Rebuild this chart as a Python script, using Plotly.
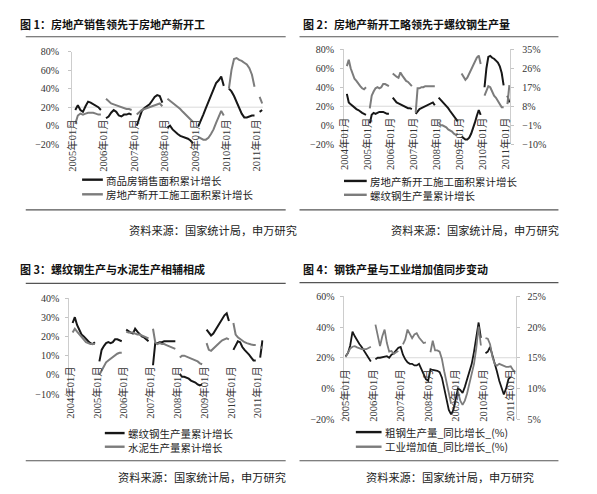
import plotly.graph_objects as go

W, H = 597, 494


def fx(px):
    return px / W


def fy(py):
    return 1 - py / H


# ---------------- categories ----------------
months_04 = [f"{y}年{m:02d}月" for y in range(2004, 2012) for m in range(1, 13)][:87]  # 2004-01 .. 2011-03
months_05 = months_04[12:]                                                           # 2005-01 .. 2011-03
year_ticks_04 = [c for c in months_04 if c.endswith("01月")]
year_ticks_05 = year_ticks_04[1:]

# ---------------- data (%), None = no data ----------------
# 房地产新开工施工面积累计增长, 2004-01 .. 2011-03
new_start = [
    None, 33, 24, 22, 20, 19, 17, 16, 14, 13, 12, 11,
    None, 2, 11, 13, 12, 13, 14, 14, 14, 13, 12, 12,
    None, 29, 26, 24, 23, 22, 21, 20, 19, 18, 18, 17,
    None, 12, 15, 17, 18, 19, 20, 21, 22, 23, 24, 21,
    None, 29, 27, 24, 22, 20, 18, 15, 12, 9, 6, 4,
    None, -12, -14, -15, -15, -13, -9, -4, 3, 10, 16, 11,
    None, 40, 60, 72, 73, 71, 70, 68, 66, 62, 55, 42,
    None, 31, 24,
]
# 商品房销售面积累计增长, 2005-01 .. 2011-03
sales = [
    None, 17, 22, 17, 15, 21, 26, 25, 23, 22, 20, 17,
    None, 8, 10, 14, 17, 15, 11, 10, 12, 12, 13, 12,
    None, 0, 9, 16, 19, 21, 23, 27, 31, 33, 32, 25,
    None, -2, 0, -4, -7, -9, -11, -12, -13, -14, -16, -19,
    None, -1, 5, 12, 19, 26, 32, 41, 46, 49, 53, 43,
    None, 40, 37, 32, 26, 19, 13, 9, 9, 10, 11, 11,
    None, 15, 17,
]
# 螺纹钢生产量累计增长, 2004-01 .. 2011-03
rebar = [
    None, 27, 30, 26, 23, 21, 20, 18.5, 17.5, 16.5, 16, 17,
    None, 7, 13, 15, 16.5, 17, 16.5, 17, 18.5, 18.5, 18, 17.5,
    None, 23.5, 22.5, 22, 21.5, 24, 22.5, 21, 20, 19.5, 18.5, 17.5,
    None, 5, 16.5, 16.5, 17, 17, 17.5, 17.5, 17.5, 17.5, 17.5, 17.5,
    None, 0.5, -1, -1, -1.5, -2, -3, -3.5, -4, -5, -5.5, -5,
    None, 23.5, 22, 20.5, 21.5, 23.5, 25.5, 27.5, 29.5, 31, 32, 28,
    None, 13, 15.5, 17.5, 17, 14.5, 13, 12, 10.5, 9, 7.5, 7.5,
    None, 9, 18,
]
# 水泥生产量累计增长, 2004-01 .. 2011-03
cement = [
    None, 22, 24, 22.5, 21, 19.5, 18, 17, 16.5, 16, 16, 16,
    None, 0, 2, 4.5, 6.5, 7.5, 8.5, 9.5, 10.5, 11, 11.5, 11.5,
    None, 22.5, 22, 22, 22, 21.5, 21, 21, 20.5, 20, 19.5, 19,
    None, 24, 17, 16, 16.5, 16, 16, 15.5, 15, 14.5, 14, 13.5,
    None, 9, 10, 10, 9.5, 9, 8.5, 8, 7.5, 7, 6, 5.5,
    None, 16.5, 13, 12.5, 13.5, 15, 16, 17, 18, 18.5, 19, 18.5,
    None, 27, 21, 19.5, 18.5, 17.5, 17, 16.5, 16, 15.8, 15.5, 15.5,
    None, 14.5, 14,
]
# 粗钢生产量_同比增长, 2005-01 .. 2011-03
steel = [
    21, 23, 28, 37, 34, 31, 29, 27, 24.5, 22, 19.5, 17.5,
    None, 19, 20, 20, 20.5, 21, 21, 20, 22, 23, 25, 26.5,
    27, 22, 19, 17, 16, 16, 15, 15, 16, 13, 9, 6,
    5, 12.5, 12, 11.7, 11.5, 10.6, 7, 0, -6, -14, -17, -14,
    -7, 0, -1, -3, 1, 6, 11, 16, 24, 34, 43, 33,
    None, 23, 24, 27, 22, 16, 11, 5, 1, -4, 0, 6,
    7.5, None, None,
]
# 工业增加值_同比增长, 2005-01 .. 2011-03 (right axis)
iva = [
    15.1, 15.9, 16.5, 16.8, 16.9, 16.7, 16.5, 16.4, 16.4, 16.4, 16.6, 16.8,
    None, 20.4, 18.8, 16.9, 18.5, 19.6, 17.4, 16, 16.1, 15.6, 15.9, 16.1,
    None, 17.2, 18, 19.6, 19, 18.2, 18.8, 19, 18.3, 17.8, 17.4, 17.5,
    None, 15.9, 17.8, 16.2, 16.2, 16, 14.8, 12.8, 11, 9, 7.5, None,
    None, 9.5, 8, 7.3, 8, 9.2, 11, 12.5, 14, 16.6, 20.1, 17,
    None, 18.2, 18.1, 17.2, 15.2, 14, 13.7, 14, 13.8, 13.6, 13.5, 13.5,
    13.6, 13, 12.7,
]

titles = [
    "图 1：房地产销售领先于房地产新开工",
    "图 2：房地产新开工略领先于螺纹钢生产量",
    "图 3：螺纹钢生产与水泥生产相辅相成",
    "图 4：钢铁产量与工业增加值同步变动",
]
legend_names = [
    ["商品房销售面积累计增长", "房地产新开工施工面积累计增长"],
    ["房地产新开工施工面积累计增长", "螺纹钢生产量累计增长"],
    ["螺纹钢生产量累计增长", "水泥生产量累计增长"],
    ["粗钢生产量_同比增长_(%)", "工业增加值_同比增长_(%)"],
]
source_text = "资料来源：国家统计局，申万研究"

BLACK = "#171717"
GRAY = "#7c7c7c"
CJK = "Noto Sans CJK SC"
NUMF = "Liberation Serif, Noto Sans CJK SC"

fig = go.Figure()


def add_line(x, y, color, xa, ya, width=2.0):
    fig.add_trace(go.Scatter(
        x=x, y=y, mode="lines", line=dict(color=color, width=width),
        xaxis=xa, yaxis=ya, showlegend=False, connectgaps=False, hoverinfo="skip"))


add_line(months_05, sales, BLACK, "x", "y")
add_line(months_05, new_start[12:], GRAY, "x", "y")
add_line(months_04, new_start, BLACK, "x2", "y2")
add_line(months_04, rebar, GRAY, "x2", "y5")
add_line(months_04, rebar, BLACK, "x3", "y3")
add_line(months_04, cement, GRAY, "x3", "y3")
add_line(months_05, steel, BLACK, "x4", "y4", 1.8)
add_line(months_05, iva, GRAY, "x4", "y6", 1.8)

# ---------------- panel geometry (pixels) ----------------
panels = [
    dict(x=(67, 260), y=(46.7, 141.7), xr=[-0.2, 74.3], yr=[-20, 80], dt=20, cats=months_05,
         ticks=year_ticks_05, lab=113, sl=7),
    dict(x=(342, 510.3), y=(44.3, 141.7), xr=[-0.5, 86.5], yr=[-20, 80], dt=20, cats=months_04,
         ticks=year_ticks_04, lab=111, sl=4),
    dict(x=(64, 260.6), y=(299.3, 397.7), xr=[-0.5, 86.5], yr=[-10, 40], dt=10, cats=months_04,
         ticks=year_ticks_04, lab=366, sl=4),
    dict(x=(342.5, 516.5), y=(297.7, 423.3), xr=[-0.5, 74.5], yr=[-20, 60], dt=20, cats=months_05,
         ticks=year_ticks_05, lab=369, sl=4),
]

axis_line = "#cdcdcd"
for i, p in enumerate(panels, start=1):
    sfx = "" if i == 1 else str(i)
    fig.layout[f"xaxis{sfx}"] = dict(
        domain=[fx(p["x"][0]), fx(p["x"][1])], range=p["xr"], type="category",
        categoryorder="array", categoryarray=p["cats"],
        anchor="free", position=fy(p["lab"]), showline=False, ticks="", showgrid=False,
        zeroline=False, tickmode="array", tickvals=p["ticks"], ticktext=p["ticks"],
        tickangle=-90, tickfont=dict(family=NUMF, size=10.5, color="#333"),
    )
    fig.layout[f"yaxis{sfx}"] = dict(
        domain=[fy(p["y"][1]), fy(p["y"][0])], range=p["yr"], dtick=p["dt"], tick0=p["yr"][0],
        anchor=f"x{sfx}", showline=True, linecolor=axis_line, linewidth=1, ticks="outside",
        ticklen=3, tickcolor="#c4c4c4", showgrid=False, zeroline=False, ticksuffix="%",
        ticklabelstandoff=p["sl"], tickfont=dict(family=NUMF, size=10, color="#333"),
    )

fig.layout["yaxis5"] = dict(
    overlaying="y2", anchor="x2", side="right", range=[-10, 35], dtick=9, tick0=-10,
    showline=True, linecolor=axis_line, ticks="outside", ticklen=3, tickcolor="#c4c4c4",
    showgrid=False, zeroline=False, ticksuffix="%", ticklabelstandoff=6,
    tickfont=dict(family=NUMF, size=10, color="#333"),
)
fig.layout["yaxis6"] = dict(
    overlaying="y4", anchor="x4", side="right", range=[5, 25], dtick=5, tick0=5,
    showline=True, linecolor=axis_line, ticks="outside", ticklen=3, tickcolor="#c4c4c4",
    showgrid=False, zeroline=False, ticksuffix="%", ticklabelstandoff=5,
    tickfont=dict(family=NUMF, size=10, color="#333"),
)

shapes = []
annotations = []

# faint 20% reference lines
for ya, xa in (("y", "x"), ("y2", "x2"), ("y4", "x4")):
    shapes.append(dict(type="line", xref=f"{xa} domain", yref=ya, x0=0, x1=1, y0=20, y1=20,
                       line=dict(color="#dadada", width=1), layer="below"))

# frame: titles, rules, legends, sources
frames = [
    dict(tx=12, ty=18, rule=(20, 283), r1=31.5, r2=209, leg=(77, 98, 100, 178, 193), src=(122, 230), h=12),
    dict(tx=299, ty=18, rule=(297, 559), r1=31.5, r2=209, leg=(342, 365, 367, 179.3, 193.5), src=(388, 230), h=12),
    dict(tx=12, ty=270, rule=(20, 283), r1=284.3, r2=466, leg=(100, 120, 122, 437.7, 451.7), src=(111, 482.7), h=12),
    dict(tx=299, ty=270, rule=(297, 559), r1=283.5, r2=466, leg=(354, 380, 382, 436.7, 451.7), src=(362, 482.7), h=None),
]
for k, f in enumerate(frames):
    annotations.append(dict(
        text=f"<b>{titles[k]}</b>", x=fx(f["tx"]), y=fy(f["ty"]), xref="paper", yref="paper",
        xanchor="left", yanchor="middle", showarrow=False,
        font=dict(family=CJK, size=11, color="#111")))
    for yy in (f["r1"], f["r2"]):
        shapes.append(dict(type="line", xref="paper", yref="paper",
                           x0=fx(f["rule"][0]), x1=fx(f["rule"][1]), y0=fy(yy), y1=fy(yy),
                           line=dict(color="#555", width=1.1)))
    lx0, lx1, tx, ly1, ly2 = f["leg"]
    for name, color, ly in ((legend_names[k][0], BLACK, ly1), (legend_names[k][1], GRAY, ly2)):
        shapes.append(dict(type="line", xref="paper", yref="paper", x0=fx(lx0), x1=fx(lx1),
                           y0=fy(ly), y1=fy(ly), line=dict(color=color, width=2.4)))
        ann = dict(
            text=name, x=fx(tx), y=fy(ly), xref="paper", yref="paper", xanchor="left",
            yanchor="middle", showarrow=False, borderpad=0, valign="middle",
            font=dict(family=CJK, size=10.5, color="#222"))
        if f["h"]:
            ann["height"] = f["h"]
        annotations.append(ann)
    annotations.append(dict(
        text=source_text, x=fx(f["src"][0]), y=fy(f["src"][1]), xref="paper", yref="paper",
        xanchor="left", yanchor="middle", showarrow=False,
        font=dict(family=CJK, size=11.2, color="#222")))

fig.update_layout(
    width=W, height=H, autosize=False, margin=dict(l=0, r=0, t=0, b=0, pad=0),
    paper_bgcolor="white", plot_bgcolor="rgba(0,0,0,0)", showlegend=False,
    shapes=shapes, annotations=annotations,
    font=dict(family=CJK, color="#222"),
)

fig.write_html("out.html", config={"displayModeBar": False},
               post_script="document.body.style.margin='0';document.body.style.overflow='hidden';")
